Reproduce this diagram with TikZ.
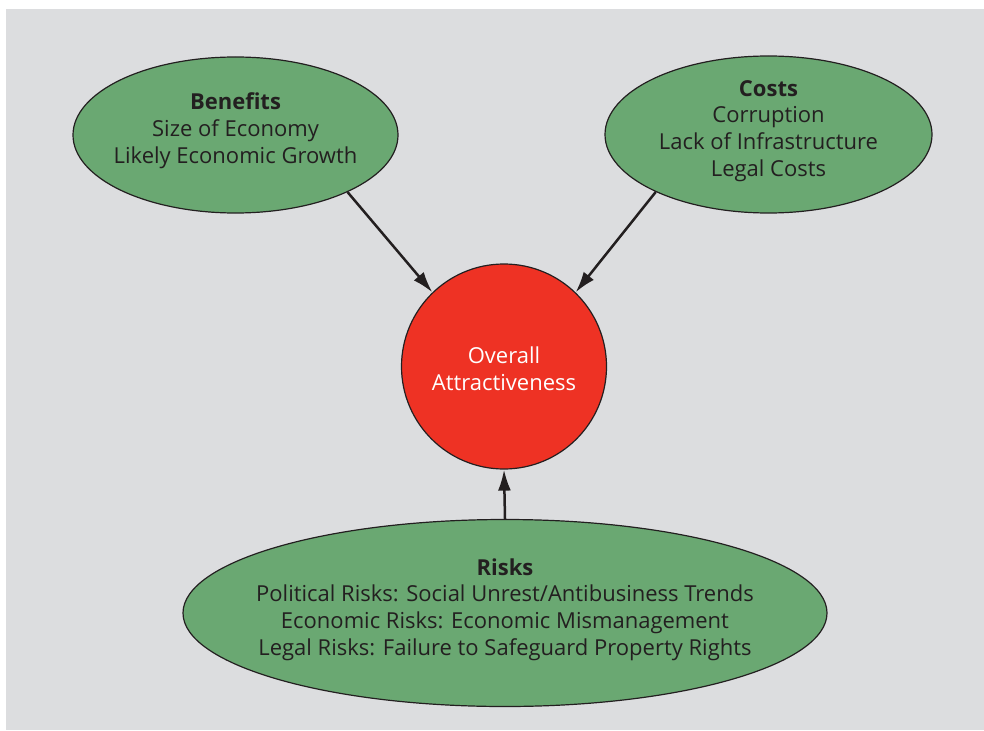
\documentclass[tikz,border=0pt]{standalone}
\usepackage{fontspec}
\setmainfont{Open Sans}
\usetikzlibrary{shapes.geometric,arrows.meta}
\definecolor{bggray}{RGB}{220,221,223}
\definecolor{ovgreen}{RGB}{106,168,114}
\definecolor{ovred}{RGB}{238,50,36}
\definecolor{inkdark}{RGB}{35,31,32}
\tikzset{
  oval/.style={ellipse, draw=inkdark, line width=1.2pt, fill=ovgreen, inner sep=0pt},
  hub/.style={circle, draw=inkdark, line width=1.2pt, fill=ovred, inner sep=0pt, minimum size=205pt},
  txt/.style={align=center, text=inkdark, font=\fontsize{22}{26.8}\selectfont, inner sep=0pt},
  hubtxt/.style={align=center, text=white, font=\fontsize{22}{27}\selectfont, inner sep=0pt},
  link/.style={draw=inkdark, line width=2.5pt, -{Latex[length=21pt,width=13pt]}}
}
\begin{document}
\begin{tikzpicture}[x=1pt,y=-1pt]
\fill[white] (0,0) rectangle (984,730);
\fill[bggray] (6,9) rectangle (984,730);
\useasboundingbox (0,0) rectangle (984,730);
\node[oval, minimum width=325pt, minimum height=156pt] (ben) at (235.5,135) {};
\node[oval, minimum width=327pt, minimum height=157pt] (cost) at (768.5,134.5) {};
\node[oval, minimum width=644pt, minimum height=187pt] (risk) at (505,613) {};
\node[hub] (circ) at (504,366.5) {};
\node[txt] (bentxt) at (235.5,131) {\textbf{Benefits}\\Size of Economy\\Likely Economic Growth};
\node[txt] (costtxt) at (768.5,131) {\textbf{Costs}\\Corruption\\Lack of Infrastructure\\Legal Costs};
\node[txt] (risktxt) at (505,609.5) {\textbf{Risks}\\Political Risks: Social Unrest/Antibusiness Trends\\Economic Risks: Economic Mismanagement\\Legal Risks: Failure to Safeguard Property Rights};
\node[hubtxt] (circtxt) at (504,369) {Overall\\Attractiveness};
\draw[link] (ben.-27) -- (circ.134);
\draw[link] (cost.207) -- (circ.46);
\draw[link] (risk.north) -- (circ.south);
\end{tikzpicture}
\end{document}
